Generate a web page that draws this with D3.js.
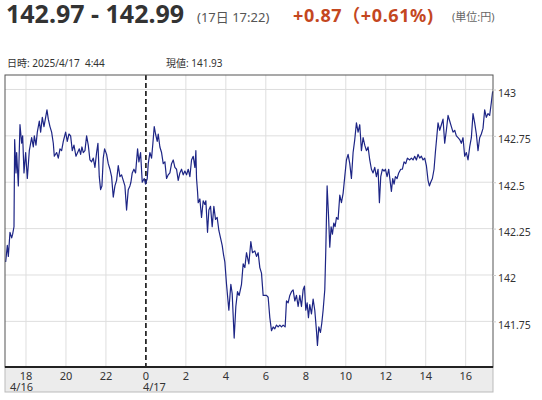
<!DOCTYPE html>
<html>
<head>
<meta charset="utf-8">
<script src="https://cdn.jsdelivr.net/npm/d3@7"></script>
<style>
  body { margin: 0; background: #fff; }
  svg { display: block; font-family: "Segoe UI", "Noto Sans", "Noto Sans CJK JP", sans-serif; }
</style>
</head>
<body>
<div id="chart"></div>
<script>
// header / info texts
const bidAsk = "142.97 - 142.99";
const stamp = "(17日 17:22)";
const change = "+0.87（+0.61%)";
const unit = "(単位:円)";
const infoTime = "日時: 2025/4/17  4:44";
const infoPrice = "現値: 141.93";

// minutes from 2025/4/17 00:00 (negative = 4/16)
const minutes = [
  -421,-416,-413,-408,-403,-400,-396,-394,-390,-388,-383,-378,-373,-370,-366,-361,-356,-350,-343,-338,
  -335,-330,-326,-320,-316,-311,-306,-301,-297,-293,-288,-283,-278,-275,-268,-263,-258,-253,-248,-241,
  -236,-231,-226,-221,-216,-210,-205,-200,-196,-192,-188,-183,-178,-173,-168,-163,-158,-153,-148,-144,
  -140,-136,-132,-128,-124,-118,-113,-108,-103,-98,-93,-88,-83,-78,-73,-68,-63,-58,-53,-48,
  -45,-41,-36,-31,-25,-21,-16,-11,-5,-1,4,7,12,17,21,25,29,34,37,42,
  47,52,57,62,67,72,77,82,87,92,97,102,107,112,117,122,127,132,137,142,
  147,150,152,155,157,162,167,172,177,180,185,189,194,199,204,209,214,219,224,229,
  233,237,242,249,255,259,265,270,275,280,287,292,297,302,309,315,320,327,332,337,
  342,347,352,362,367,372,377,382,387,392,397,402,407,412,418,422,427,432,437,442,
  447,452,457,462,467,472,476,480,484,488,492,497,502,507,512,515,519,524,528,532,
  537,540,544,548,552,556,560,564,568,572,577,582,587,592,597,602,607,612,617,622,
  627,632,637,642,647,652,657,662,667,672,677,682,687,692,697,701,705,710,715,719,
  724,729,733,737,741,745,749,754,759,765,770,775,780,785,792,797,802,807,812,817,
  822,827,832,837,842,847,851,855,860,865,869,873,877,882,887,892,897,902,907,912,
  917,922,927,932,937,942,947,952,957,962,967,972,977,982,987,992,997,1002,1007,1012,
  1017,1022,1027,1032,1037,1041
];

const prices = [
  142.07,142.16,142.10,142.23,142.20,142.22,142.26,142.73,142.55,142.66,142.48,142.81,142.71,142.75,142.55,142.66,142.52,142.67,142.74,142.69,
  142.75,142.70,142.77,142.83,142.77,142.85,142.80,142.85,142.89,142.84,142.80,142.77,142.71,142.64,142.66,142.63,142.68,142.67,142.72,142.77,
  142.72,142.76,142.75,142.67,142.70,142.64,142.66,142.68,142.65,142.69,142.66,142.67,142.75,142.70,142.62,142.61,142.63,142.58,142.66,142.71,
  142.53,142.46,142.48,142.63,142.68,142.65,142.60,142.57,142.53,142.42,142.48,142.51,142.59,142.53,142.54,142.51,142.48,142.35,142.46,142.48,
  142.50,142.55,142.57,142.55,142.68,142.61,142.66,142.50,142.52,142.49,142.52,142.60,142.66,142.63,142.71,142.80,142.76,142.72,142.76,142.69,
  142.66,142.60,142.61,142.52,142.54,142.55,142.60,142.62,142.58,142.57,142.51,142.55,142.57,142.54,142.56,142.54,142.57,142.53,142.62,142.64,
  142.58,142.67,142.52,142.45,142.39,142.41,142.31,142.40,142.38,142.40,142.23,142.35,142.37,142.26,142.37,142.30,142.31,142.24,142.20,142.16,
  142.11,142.07,141.95,141.81,141.95,141.90,141.66,141.83,141.91,141.89,141.95,142.06,142.04,142.12,142.06,142.18,142.12,142.13,142.10,142.12,
  142.04,142.01,141.89,141.89,141.88,141.77,141.70,141.72,141.71,141.73,141.72,141.73,141.72,141.73,141.72,141.86,141.85,141.89,141.91,141.92,
  141.86,141.89,141.83,141.89,141.83,141.92,141.94,141.81,141.85,141.77,141.84,141.79,141.87,141.81,141.70,141.62,141.72,141.69,141.74,141.81,
  141.92,142.13,142.48,142.33,142.15,142.26,142.22,142.28,142.26,142.31,142.30,142.43,142.39,142.44,142.53,142.62,142.65,142.60,142.52,142.66,
  142.73,142.82,142.77,142.81,142.67,142.74,142.70,142.67,142.69,142.62,142.57,142.55,142.58,142.53,142.57,142.39,142.53,142.57,142.56,142.57,
  142.53,142.57,142.51,142.45,142.52,142.49,142.53,142.52,142.55,142.57,142.57,142.61,142.60,142.63,142.62,142.63,142.62,142.64,142.62,142.65,
  142.63,142.64,142.62,142.63,142.59,142.51,142.48,142.50,142.52,142.57,142.66,142.74,142.82,142.78,142.81,142.84,142.71,142.78,142.86,142.83,
  142.80,142.77,142.78,142.75,142.74,142.73,142.71,142.74,142.64,142.66,142.62,142.69,142.74,142.87,142.82,142.76,142.67,142.74,142.76,142.79,
  142.89,142.85,142.87,142.86,142.93,142.99
];

const yTicks = [141.75, 142, 142.25, 142.5, 142.75, 143];
const dateLabels = ["4/16", "4/17"];

const width = 542, height = 400;
const plot = { left: 5, right: 493, top: 75, bottom: 367 };
const bandBottom = 392;

const base = new Date(2025, 3, 17, 0, 0);
const toDate = m => new Date(base.getTime() + m * 60000);
const data = minutes.map((m, i) => ({ t: toDate(m), v: prices[i] }));

const svg = d3.select("#chart").append("svg")
  .attr("width", width)
  .attr("height", height);

// header
svg.append("text").attr("x", 6).attr("y", 23)
  .attr("font-size", 25).attr("font-weight", "bold").attr("fill", "#333")
  .text(bidAsk);
svg.append("text").attr("x", 197).attr("y", 22)
  .attr("font-size", 13).attr("fill", "#555").text(stamp);
svg.append("text").attr("x", 293).attr("y", 22)
  .attr("font-size", 18).attr("font-weight", "bold").attr("fill", "#c4471f")
  .attr("letter-spacing", 0.6).text(change);
svg.append("text").attr("x", 452).attr("y", 21)
  .attr("font-size", 11).attr("fill", "#666").text(unit);

svg.append("text").attr("x", 7).attr("y", 67)
  .attr("font-size", 10).attr("fill", "#333")
  .style("white-space", "pre").text(infoTime);
svg.append("text").attr("x", 166).attr("y", 67)
  .attr("font-size", 10).attr("fill", "#333").text(infoPrice);

// scales
const x = d3.scaleTime()
  .domain([toDate(-423), toDate(1042)])
  .range([plot.left, plot.right]);

const y = d3.scaleLinear()
  .domain([141.504, 143.078])
  .range([plot.bottom, plot.top]);

// x-axis band
svg.append("rect")
  .attr("x", plot.left).attr("y", plot.bottom)
  .attr("width", plot.right - plot.left).attr("height", bandBottom - plot.bottom)
  .attr("fill", "#ececec").attr("stroke", "#bbb");

const hourTicks = x.ticks(d3.timeHour.every(2));

// grid
svg.append("g")
  .selectAll("line")
  .data(hourTicks.filter(d => d.getHours() !== 0))
  .join("line")
  .attr("x1", d => x(d)).attr("x2", d => x(d))
  .attr("y1", plot.top).attr("y2", plot.bottom)
  .attr("stroke", "#dedede");

svg.append("g")
  .selectAll("line")
  .data(yTicks)
  .join("line")
  .attr("x1", plot.left).attr("x2", plot.right)
  .attr("y1", d => y(d)).attr("y2", d => y(d))
  .attr("stroke", "#dedede");

// date separator
svg.append("g")
  .selectAll("line")
  .data(hourTicks.filter(d => d.getHours() === 0))
  .join("line")
  .attr("x1", d => x(d)).attr("x2", d => x(d))
  .attr("y1", plot.top).attr("y2", plot.bottom)
  .attr("stroke", "#111").attr("stroke-width", 1.6)
  .attr("stroke-dasharray", "5,3");

// price line
const line = d3.line()
  .x(d => x(d.t))
  .y(d => y(d.v));

svg.append("path")
  .datum(data)
  .attr("d", line)
  .attr("fill", "none")
  .attr("stroke", "#1d2585")
  .attr("stroke-width", 1.2)
  .attr("stroke-linejoin", "round");

// frame
svg.append("rect")
  .attr("x", plot.left).attr("y", plot.top)
  .attr("width", plot.right - plot.left).attr("height", plot.bottom - plot.top)
  .attr("fill", "none").attr("stroke", "#555");
svg.append("line")
  .attr("x1", plot.left).attr("x2", plot.right)
  .attr("y1", plot.bottom).attr("y2", plot.bottom)
  .attr("stroke", "#222").attr("stroke-width", 2);

// y axis (right)
const yAxis = svg.append("g")
  .attr("transform", `translate(${plot.right},0)`)
  .call(d3.axisRight(y).tickValues(yTicks).tickSize(3).tickPadding(2).tickFormat(d3.format("~g")));
yAxis.select(".domain").remove();
yAxis.selectAll("line").attr("stroke", "#ccc");
yAxis.selectAll("text")
  .attr("font-size", 10.5).attr("fill", "#333")
  .attr("dy", "0.65em")
  .style("font-family", "\"Segoe UI\", \"Noto Sans\", sans-serif");

// x labels
svg.append("g")
  .selectAll("text")
  .data(hourTicks)
  .join("text")
  .attr("x", d => x(d))
  .attr("y", 380)
  .attr("text-anchor", "middle")
  .attr("font-size", 11).attr("fill", "#333")
  .text(d3.timeFormat("%-H"));

const dayTicks = [x.domain()[0], ...hourTicks.filter(d => d.getHours() === 0)];
svg.append("g")
  .selectAll("text")
  .data(dayTicks)
  .join("text")
  .attr("x", d => Math.max(plot.left + 5, x(d) - 3))
  .attr("y", 391)
  .attr("font-size", 11).attr("fill", "#333")
  .text((d, i) => dateLabels[i]);
</script>
</body>
</html>
